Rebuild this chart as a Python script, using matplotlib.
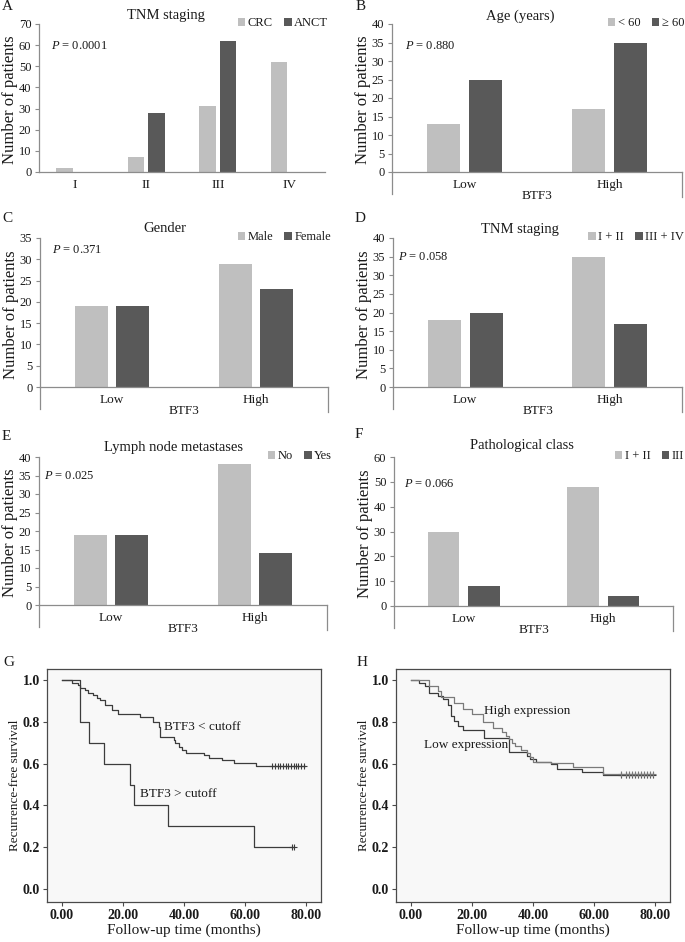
import numpy as np
import matplotlib
matplotlib.use("Agg")
import matplotlib.pyplot as plt
from matplotlib.patches import Patch

plt.rcParams['font.family'] = ['Liberation Serif', 'DejaVu Serif']
plt.rcParams['mathtext.fontset'] = 'custom'
plt.rcParams['mathtext.rm'] = 'Liberation Serif'
plt.rcParams['mathtext.it'] = 'Liberation Serif:italic'

# ---------------- data ----------------
a_cats = ['I', 'II', 'III', 'IV']
a_crc = [2, 7, 31, 52]
a_anct = [0, 28, 62, 0]

btf3_cats = ['Low', 'High']
b_lt60 = [13, 17]
b_ge60 = [25, 35]
c_male = [19, 29]
c_female = [19, 23]
d_i_ii = [18, 35]
d_iii_iv = [20, 17]
e_no = [19, 38]
e_yes = [19, 14]
f_i_ii = [30, 48]
f_iii = [8, 4]

# Kaplan-Meier (G)
g_low_t = [0, 3.2, 5.4, 5.9, 7.6, 8.7, 10.3, 11.4, 12.5, 14.1, 16.3, 18.5, 25.7, 30.0,
           31.7, 32.2, 36.6, 37.2, 38.3, 39.4, 40.5, 46.5, 48.1, 52.5, 56.4, 63.5, 79.5]
g_low_s = [1.0, 0.988, 0.976, 0.964, 0.952, 0.94, 0.928, 0.916, 0.904, 0.88, 0.855, 0.84,
           0.825, 0.80, 0.777, 0.729, 0.713, 0.697, 0.681, 0.665, 0.649, 0.641, 0.625,
           0.617, 0.601, 0.589, 0.589]
g_low_cens = [69.0, 69.9, 70.8, 71.6, 72.5, 73.3, 74.2, 75.0, 75.9, 76.7, 77.5, 78.4, 79.2]
g_high_t = [0, 5.9, 9.0, 13.8, 22.3, 23.7, 34.8, 63.0, 76.1]
g_high_s = [1.0, 0.8, 0.7, 0.6, 0.5, 0.4, 0.3, 0.2, 0.2]
g_high_cens = [75.4, 76.1]

# Kaplan-Meier (H)
h_low_t = [0, 2.5, 4.5, 6.0, 9.0, 10.5, 12.0, 13.0, 14.0, 15.5, 17.0, 24.0, 32.0, 38.0,
           39.0, 41.0, 46.0, 48.0, 56.0, 63.0, 79.0]
h_low_s = [1.0, 0.985, 0.97, 0.94, 0.925, 0.91, 0.88, 0.83, 0.805, 0.78, 0.76, 0.725,
           0.655, 0.635, 0.62, 0.61, 0.60, 0.575, 0.56, 0.545, 0.545]
h_high_t = [0, 6.0, 9.0, 10.0, 14.0, 17.0, 20.0, 23.5, 27.0, 30.0, 31.0, 32.0, 33.0, 34.0,
            36.0, 38.0, 39.0, 40.0, 46.0, 53.0, 63.0, 79.0]
h_high_s = [1.0, 0.97, 0.95, 0.92, 0.89, 0.86, 0.84, 0.80, 0.77, 0.75, 0.73, 0.72, 0.70,
            0.685, 0.665, 0.65, 0.63, 0.61, 0.605, 0.585, 0.55, 0.55]
h_cens = [69.0, 70.5, 71.5, 72.5, 73.5, 74.5, 75.5, 76.5, 77.5, 78.5, 79.2]

# ---------------- figure ----------------
W, H = 685, 942
fig = plt.figure(figsize=(W / 100, H / 100), dpi=100)

LIGHT = '#BFBFBF'
DARK = '#595959'
AXC = '#8C8C8C'
TXT = '#1a1a1a'


def px_axes(x0, y0, x1, y1):
    return fig.add_axes([x0 / W, 1 - y1 / H, (x1 - x0) / W, (y1 - y0) / H])


def ftext(x, y, s, **kw):
    kw.setdefault('ha', 'center')
    kw.setdefault('va', 'center')
    kw.setdefault('color', TXT)
    fig.text(x / W, 1 - y / H, s, **kw)


def bar_panel(box, cats, s1, s2, names, ymax, ystep, title, title_xy, pval, p_xy,
              letter, letter_xy, leg_right, multilevel):
    x0, y0, x1, y1 = box
    ax = px_axes(x0, y0, x1, y1)
    n = len(cats)
    xc = np.arange(n) + 0.5
    w = 0.228
    off = 0.145
    ax.bar(xc - off, s1, w, color=LIGHT, edgecolor='none', zorder=2)
    ax.bar(xc + off, s2, w, color=DARK, edgecolor='none', zorder=2)
    ax.set_xlim(0, n)
    ax.set_ylim(0, ymax)
    ax.set_yticks(np.arange(0, ymax + 0.1, ystep))
    ax.set_xticks(xc, cats)
    for sp in ['top', 'right']:
        ax.spines[sp].set_visible(False)
    for sp in ['left', 'bottom']:
        ax.spines[sp].set_color(AXC)
        ax.spines[sp].set_linewidth(0.9)
    ax.tick_params(axis='y', direction='out', length=3, width=0.8, color=AXC,
                   labelsize=9, labelcolor=TXT, pad=2.5)
    ax.tick_params(axis='x', length=0, labelsize=9.5, labelcolor=TXT, pad=5)
    if multilevel:
        hh = 22 / (y1 - y0)
        ax.plot([0, 0], [0, -hh], transform=ax.transAxes, color=AXC, lw=0.9, clip_on=False)
        ax.plot([1, 1], [0, -hh - 0.02], transform=ax.transAxes, color=AXC, lw=0.9, clip_on=False)
        ftext((x0 + x1) / 2, y1 + 24, 'BTF3', fontsize=9.5)
    ftext(title_xy[0], title_xy[1], title, fontsize=10.5)
    ftext(p_xy[0], p_xy[1], r'$P$ = ' + pval, fontsize=9, ha='left')
    ftext(letter_xy[0], letter_xy[1], letter, fontsize=11, ha='left')
    ftext(x0 - 29, (y0 + y1) / 2 + 2, 'Number of patients', fontsize=12, rotation=90)
    handles = [Patch(facecolor=LIGHT, edgecolor='none', label=names[0]),
               Patch(facecolor=DARK, edgecolor='none', label=names[1])]
    leg = ax.legend(handles=handles, ncol=2, frameon=False, fontsize=9,
                    handlelength=0.6, handleheight=0.6, handletextpad=0.2,
                    columnspacing=0.9, borderaxespad=0, borderpad=0,
                    loc='center right',
                    bbox_to_anchor=(leg_right / W, 1 - (y0 - 1) / H),
                    bbox_transform=fig.transFigure)
    for t in leg.get_texts():
        t.set_color(TXT)
    return ax


bar_panel((39, 24, 325, 172), a_cats, a_crc, a_anct, ['CRC', 'ANCT'], 70, 10,
          'TNM staging', (166, 16), '0.0001', (51, 46), 'A', (2, 7), 328, False)
bar_panel((392, 24, 682, 172), btf3_cats, b_lt60, b_ge60, ['< 60', '\u2265 60'], 40, 5,
          'Age (years)', (520, 16), '0.880', (405, 46), 'B', (356, 7), 684, True)
bar_panel((40, 238, 328, 387), btf3_cats, c_male, c_female, ['Male', 'Female'], 35, 5,
          'Gender', (165, 229), '0.371', (52, 250), 'C', (2, 219), 331, True)
bar_panel((393, 238, 682, 387), btf3_cats, d_i_ii, d_iii_iv, ['I + II', 'III + IV'], 40, 5,
          'TNM staging', (520, 230), '0.058', (398, 257), 'D', (355, 219), 684, True)
bar_panel((39, 457, 327, 605), btf3_cats, e_no, e_yes, ['No', 'Yes'], 40, 5,
          'Lymph node metastases', (173, 447), '0.025', (44, 476), 'E', (2, 437), 332, True)
bar_panel((394, 457, 673, 606), btf3_cats, f_i_ii, f_iii, ['I + II', 'III'], 60, 10,
          'Pathological class', (522, 446), '0.066', (404, 484), 'F', (355, 435), 684, True)


def km_panel(box, curves, labels, letter, letter_xy):
    x0, y0, x1, y1 = box
    ax = px_axes(x0, y0, x1, y1)
    ax.set_facecolor('#F8F8F8')
    for (t, s, cens, col) in curves:
        ax.step(t, s, where='post', color=col, lw=0.9)
        ax.plot(cens, [s[-1]] * len(cens), '+', color=col, ms=4.5, mew=0.8)
    for (tx, ty, txt) in labels:
        ax.text(tx, ty, txt, fontsize=9.5, color=TXT, ha='left', va='center')
    ax.set_xlim(-4.9, 84.9)
    ax.set_ylim(-0.062, 1.053)
    ax.set_xticks([0, 20, 40, 60, 80], ['0.00', '20.00', '40.00', '60.00', '80.00'])
    ax.set_yticks([0, 0.2, 0.4, 0.6, 0.8, 1.0], ['0.0', '0.2', '0.4', '0.6', '0.8', '1.0'])
    for sp in ax.spines.values():
        sp.set_color('#4a4a4a')
        sp.set_linewidth(0.9)
    ax.tick_params(direction='out', length=3, width=0.8, color='#4a4a4a',
                   labelsize=10, labelcolor=TXT, pad=2)
    for lab in ax.get_xticklabels() + ax.get_yticklabels():
        lab.set_fontweight('bold')
    ax.set_xlabel('Follow-up time (months)', fontsize=11, color=TXT, labelpad=1)
    ax.set_ylabel('Recurrence-free survival', fontsize=9.5, color=TXT, labelpad=1)
    ftext(letter_xy[0], letter_xy[1], letter, fontsize=11, ha='left')
    return ax


km_panel((47, 669, 321, 902),
         [(g_low_t, g_low_s, g_low_cens, '#3c3c3c'),
          (g_high_t, g_high_s, g_high_cens, '#3c3c3c')],
         [(33.5, 0.775, 'BTF3 < cutoff'), (25.7, 0.455, 'BTF3 > cutoff')],
         'G', (3, 663))
km_panel((396, 669, 670, 902),
         [(h_low_t, h_low_s, h_cens, '#3a3a3a'),
          (h_high_t, h_high_s, h_cens, '#7a7a7a')],
         [(23.8, 0.85, 'High expression'), (4.2, 0.688, 'Low expression')],
         'H', (357, 663))

fig.savefig('out.png', dpi=100)
